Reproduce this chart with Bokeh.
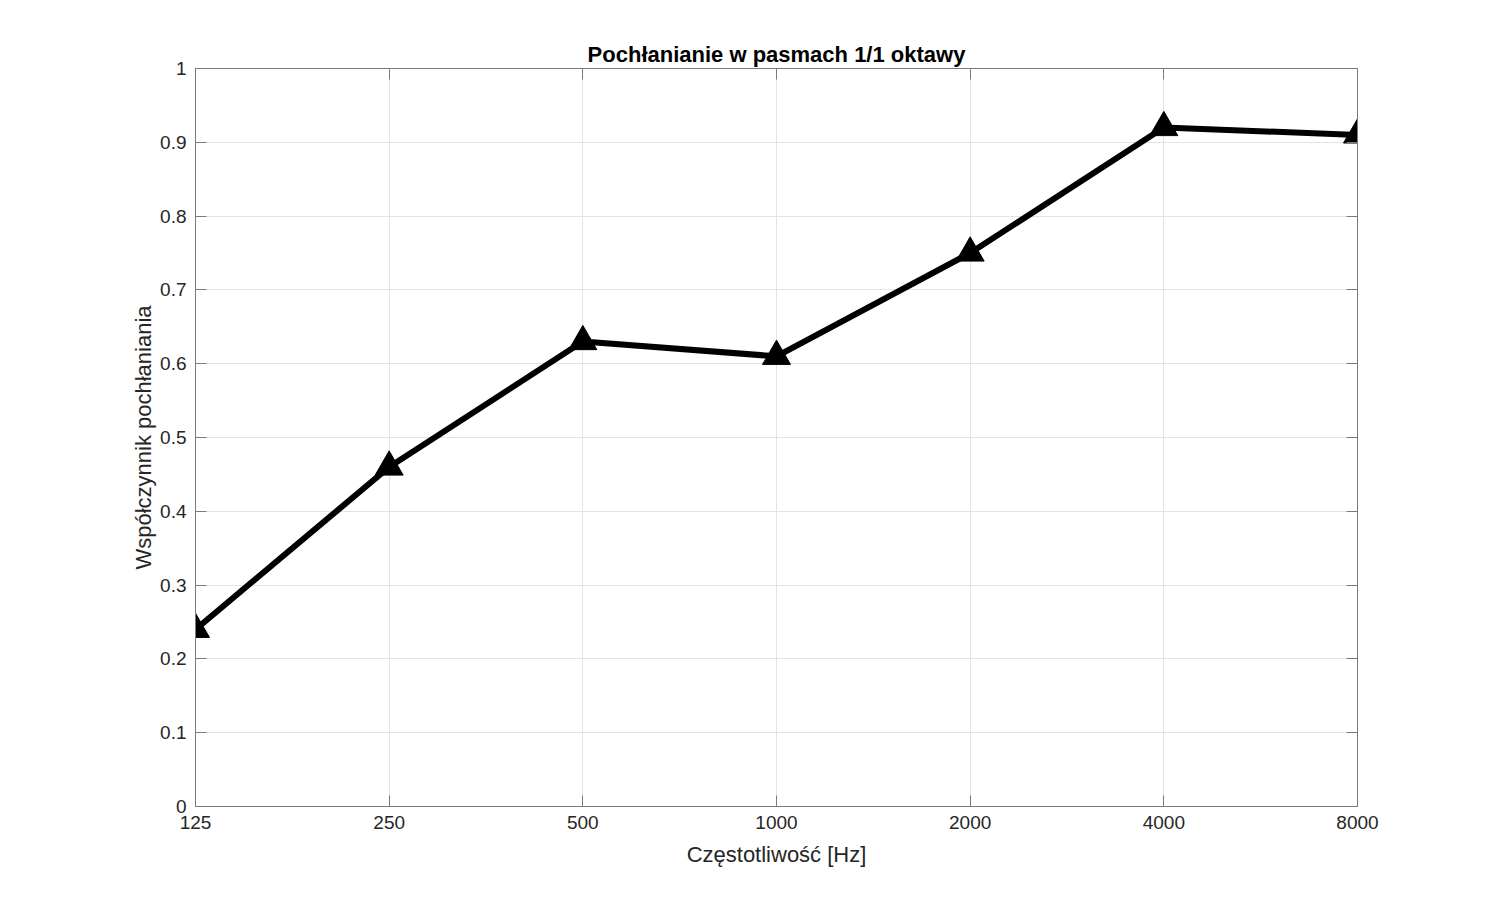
from bokeh.plotting import figure
from bokeh.models import FixedTicker, LinearAxis, LogAxis, CustomJSTickFormatter, Range1d, Title
from bokeh.embed import file_html
from bokeh.resources import INLINE

freqs = [125, 250, 500, 1000, 2000, 4000, 8000]
absorption = [0.24, 0.46, 0.63, 0.61, 0.75, 0.92, 0.91]
y_ticks = [0, 0.1, 0.2, 0.3, 0.4, 0.5, 0.6, 0.7, 0.8, 0.9, 1]

FONT = "Liberation Sans"
AXC = "#7a7a7a"
TXT = "#262626"

p = figure(width=1500, height=906, x_axis_type="log", output_backend="svg",
           toolbar_location=None, x_range=Range1d(125, 8000), y_range=Range1d(0, 1),
           min_border_left=195, min_border_right=143, min_border_top=68, min_border_bottom=100)
p.title = None

p.line(freqs, absorption, line_color="black", line_width=6)
p.scatter(freqs, absorption, marker="triangle", size=28, fill_color="black", line_color="black")

xfmt = CustomJSTickFormatter(code="return Math.round(tick).toString();")
yfmt = CustomJSTickFormatter(code="return (Math.round(tick*10)/10).toString();")

xa = p.xaxis[0]
xa.ticker = FixedTicker(ticks=freqs)
xa.formatter = xfmt
xa.axis_label = "Częstotliwość [Hz]"
ya = p.yaxis[0]
ya.ticker = FixedTicker(ticks=y_ticks)
ya.formatter = yfmt
ya.axis_label = "Współczynnik pochłaniania"

for ax in (xa, ya):
    ax.major_tick_in = 11
    ax.major_tick_out = 0
    ax.minor_tick_in = 0
    ax.minor_tick_out = 0
    ax.axis_line_color = AXC
    ax.major_tick_line_color = AXC
    ax.major_label_text_font = FONT
    ax.major_label_text_font_size = "19px"
    ax.major_label_text_color = TXT
    ax.axis_label_text_font = FONT
    ax.axis_label_text_font_size = "22px"
    ax.axis_label_text_font_style = "normal"
    ax.axis_label_text_color = TXT
xa.major_label_standoff = 9
xa.axis_label_standoff = 10
ya.major_label_standoff = 9
ya.axis_label_standoff = 1

top = LogAxis(ticker=FixedTicker(ticks=freqs), major_tick_in=11, major_tick_out=0,
              minor_tick_in=0, minor_tick_out=0, major_label_text_font_size="0px",
              axis_line_color=AXC, major_tick_line_color=AXC, major_label_standoff=0)
right = LinearAxis(ticker=FixedTicker(ticks=y_ticks), major_tick_in=11, major_tick_out=0,
                   minor_tick_in=0, minor_tick_out=0, major_label_text_font_size="0px",
                   axis_line_color=AXC, major_tick_line_color=AXC, major_label_standoff=0)
top.major_label_overrides = {f: "" for f in freqs}
right.major_label_overrides = {t: "" for t in y_ticks}
p.add_layout(top, "above")
p.add_layout(right, "right")
p.add_layout(Title(text="Pochłanianie w pasmach 1/1 oktawy", align="center",
                   text_font=FONT, text_font_size="22px", text_font_style="bold",
                   text_color="#000000", standoff=4), "above")

p.xgrid.ticker = FixedTicker(ticks=freqs)
p.ygrid.ticker = FixedTicker(ticks=y_ticks)
for g in (p.xgrid[0], p.ygrid[0]):
    g.grid_line_color = "#e3e3e3"
    g.grid_line_width = 1
p.outline_line_color = AXC
p.background_fill_color = "white"
p.border_fill_color = "white"

open("out.html", "w").write(file_html(p, INLINE))
